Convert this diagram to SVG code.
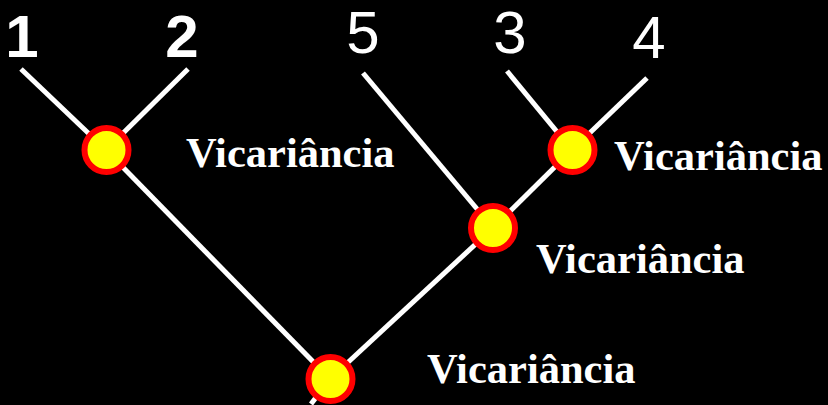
<svg xmlns="http://www.w3.org/2000/svg" width="828" height="405" viewBox="0 0 828 405">
<style>
.edge{stroke:#fff;stroke-width:5;fill:none}
.node{fill:#ffff00;stroke:#ff0000;stroke-width:6}
.lab{fill:#fff;font-family:"Liberation Serif","Times New Roman",serif;font-weight:bold;font-size:42.5px}
.tip{fill:#fff;font-family:"Liberation Sans",Arial,sans-serif;font-size:60px;text-anchor:middle}
</style>
<rect width="828" height="405" fill="#000"/>
<g id="connectors">
<line class="edge" x1="21" y1="69" x2="106" y2="150"/>
<line class="edge" x1="188" y1="69" x2="106" y2="150"/>
<line class="edge" x1="106" y1="150" x2="330" y2="379"/>
<line class="edge" x1="363" y1="73" x2="493" y2="228"/>
<line class="edge" x1="507" y1="71" x2="572" y2="150"/>
<line class="edge" x1="647" y1="78" x2="572" y2="150"/>
<line class="edge" x1="572" y1="150" x2="493" y2="228"/>
<line class="edge" x1="493" y1="228" x2="330" y2="379"/>
<line class="edge" x1="330" y1="379" x2="311" y2="404"/>
</g>
<g id="tip1"><text class="tip" x="22" y="57" font-weight="bold">1</text></g>
<g id="tip2"><text class="tip" x="182" y="57" font-weight="bold">2</text></g>
<g id="tip5"><text class="tip" x="363" y="53">5</text></g>
<g id="tip3"><text class="tip" x="510" y="53">3</text></g>
<g id="tip4"><text class="tip" x="649" y="58">4</text></g>
<g id="nodeA"><circle class="node" cx="106.5" cy="150" r="22"/></g>
<g id="nodeD"><circle class="node" cx="572.5" cy="150" r="22"/></g>
<g id="nodeC"><circle class="node" cx="493" cy="228" r="22"/></g>
<g id="nodeRoot"><circle class="node" cx="330.5" cy="379" r="22"/></g>
<g id="labelA"><text class="lab" x="186" y="167">Vicariância</text></g>
<g id="labelD"><text class="lab" x="614" y="170">Vicariância</text></g>
<g id="labelC"><text class="lab" x="536" y="273">Vicariância</text></g>
<g id="labelRoot"><text class="lab" x="427" y="383">Vicariância</text></g>
</svg>
